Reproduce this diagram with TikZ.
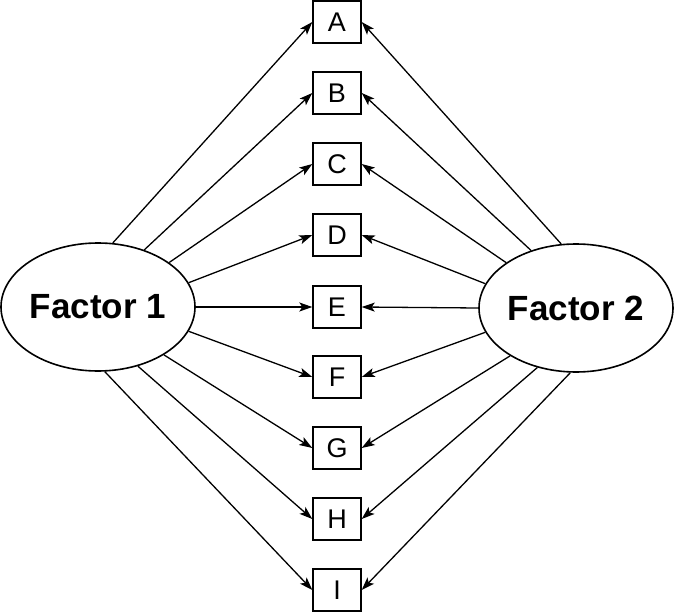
\documentclass[tikz,border=0pt]{standalone}
\usepackage{fontspec}
\setmainfont{Liberation Sans}
\usetikzlibrary{arrows.meta,shapes.geometric}
\tikzset{
  factor/.style={draw, ellipse, line width=1.6pt, minimum width=194pt, minimum height=128pt, inner sep=0pt, font=\fontsize{35}{40}\selectfont\bfseries},
  item/.style={draw, rectangle, line width=1.4pt, minimum width=48pt, minimum height=42pt, inner sep=0pt, font=\fontsize{27}{30}\selectfont},
  arr/.style={line width=1.3pt, -{Stealth[length=13pt,width=9pt,inset=3pt]}}
}
\begin{document}
\begin{tikzpicture}[x=1pt,y=-1pt]
\useasboundingbox (0,0) rectangle (675,613);
\node[factor] (f1) at (98,307) {Factor 1};
\node[factor] (f2) at (576,308) {Factor 2};
\node[item] (A) at (337,22) {A};
\node[item] (B) at (337,93) {B};
\node[item] (C) at (337,164) {C};
\node[item] (D) at (337,235) {D};
\node[item] (E) at (337,307) {E};
\node[item] (F) at (337,377) {F};
\node[item] (G) at (337,448) {G};
\node[item] (H) at (337,519) {H};
\node[item] (I) at (337,590) {I};
\draw[arr] (f1.77) -- (A.west);
\draw[arr] (f1.51) -- (B.west);
\draw[arr] (f1.32) -- (C.west);
\draw[arr] (f1.15) -- (D.west);
\draw[arr] (f1.0) -- (E.west);
\draw[arr] (f1.-15) -- (F.west);
\draw[arr] (f1.-36) -- (G.west);
\draw[arr] (f1.-56) -- (H.west);
\draw[arr] (f1.-84) -- (I.west);
\draw[arr] (f2.103) -- (A.east);
\draw[arr] (f2.128) -- (B.east);
\draw[arr] (f2.147) -- (C.east);
\draw[arr] (f2.165) -- (D.east);
\draw[arr] (f2.180) -- (E.east);
\draw[arr] (f2.195) -- (F.east);
\draw[arr] (f2.216) -- (G.east);
\draw[arr] (f2.237) -- (H.east);
\draw[arr] (f2.265) -- (I.east);
\end{tikzpicture}
\end{document}
